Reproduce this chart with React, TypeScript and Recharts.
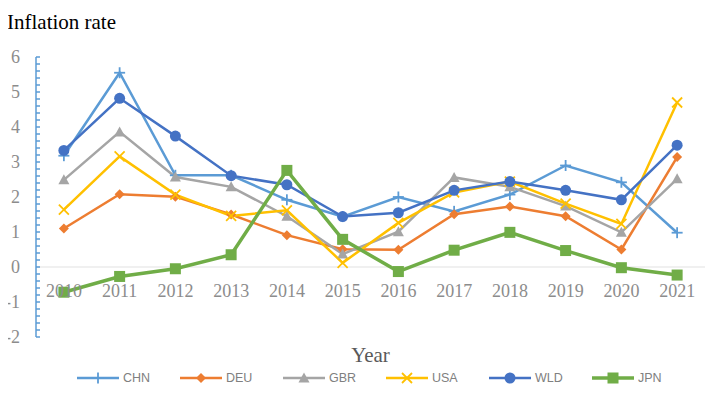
import { LineChart, Line, XAxis, YAxis, ReferenceLine } from 'recharts';

const years = ['2010', '2011', '2012', '2013', '2014', '2015', '2016', '2017', '2018', '2019', '2020', '2021'];

const chn = [3.18, 5.55, 2.62, 2.62, 1.92, 1.44, 2.0, 1.59, 2.07, 2.9, 2.42, 0.98];
const deu = [1.1, 2.08, 2.01, 1.5, 0.91, 0.51, 0.49, 1.51, 1.73, 1.45, 0.5, 3.14];
const gbr = [2.49, 3.86, 2.57, 2.29, 1.45, 0.37, 1.01, 2.56, 2.29, 1.74, 0.99, 2.52];
const usa = [1.64, 3.16, 2.07, 1.46, 1.62, 0.12, 1.26, 2.13, 2.44, 1.81, 1.23, 4.7];
const wld = [3.33, 4.82, 3.74, 2.61, 2.35, 1.44, 1.55, 2.19, 2.44, 2.19, 1.92, 3.48];
const jpn = [-0.72, -0.27, -0.05, 0.35, 2.76, 0.79, -0.13, 0.48, 0.99, 0.47, -0.02, -0.23];

const yLabels = [-2, -1, 0, 1, 2, 3, 4, 5, 6];
// minor ticks every 0.2 between the labelled ones
const yTicks: number[] = [];
for (let i = -10; i <= 30; i++) yTicks.push(i / 5);

const data = years.map((year, i) => ({
  year,
  CHN: chn[i],
  DEU: deu[i],
  GBR: gbr[i],
  USA: usa[i],
  WLD: wld[i],
  JPN: jpn[i],
}));

type Shape = 'plus' | 'diamond' | 'triangle' | 'x' | 'circle' | 'square';

const series: { key: string; color: string; shape: Shape; width: number }[] = [
  { key: 'CHN', color: '#5B9BD5', shape: 'plus', width: 2.5 },
  { key: 'DEU', color: '#ED7D31', shape: 'diamond', width: 2.5 },
  { key: 'GBR', color: '#A5A5A5', shape: 'triangle', width: 2.5 },
  { key: 'USA', color: '#FFC000', shape: 'x', width: 2.5 },
  { key: 'WLD', color: '#4472C4', shape: 'circle', width: 2.5 },
  { key: 'JPN', color: '#70AD47', shape: 'square', width: 3.5 },
];

const serif = '"Liberation Serif", "Times New Roman", serif';
const sans = '"Liberation Sans", Arial, sans-serif';

function Marker({ cx, cy, shape, color }: { cx: number; cy: number; shape: Shape; color: string }) {
  switch (shape) {
    case 'plus':
      return (
        <g stroke={color} strokeWidth={1.8}>
          <line x1={cx - 5.5} y1={cy} x2={cx + 5.5} y2={cy} />
          <line x1={cx} y1={cy - 5.5} x2={cx} y2={cy + 5.5} />
        </g>
      );
    case 'x':
      return (
        <g stroke={color} strokeWidth={1.8}>
          <line x1={cx - 5} y1={cy - 5} x2={cx + 5} y2={cy + 5} />
          <line x1={cx - 5} y1={cy + 5} x2={cx + 5} y2={cy - 5} />
        </g>
      );
    case 'diamond':
      return <polygon points={`${cx},${cy - 5} ${cx + 5},${cy} ${cx},${cy + 5} ${cx - 5},${cy}`} fill={color} />;
    case 'triangle':
      return <polygon points={`${cx},${cy - 5.5} ${cx + 5.5},${cy + 4.5} ${cx - 5.5},${cy + 4.5}`} fill={color} />;
    case 'circle':
      return <circle cx={cx} cy={cy} r={5.5} fill={color} />;
    case 'square':
      return <rect x={cx - 5.5} y={cy - 5.5} width={11} height={11} fill={color} />;
  }
  return null;
}

const YTick = ({ x, y, payload }: any) => {
  const v = Math.round(payload.value * 5) / 5;
  const isLabel = yLabels.includes(v);
  return (
    <g>
      <line x1={x} y1={y} x2={x + 4} y2={y} stroke="#5B9BD5" strokeWidth={1.5} />
      {isLabel && (
        <text x={x - 16} y={y} dy="0.35em" textAnchor="end" fill="#8C8C8C" fontSize={18} fontFamily={serif}>
          {v}
        </text>
      )}
    </g>
  );
};

const XTick = ({ x, y, payload }: any) => (
  <text x={x} y={y - 40} textAnchor="middle" fill="#8C8C8C" fontSize={18} fontFamily={serif}>
    {payload.value}
  </text>
);

function LegendRow() {
  return (
    <div style={{ position: 'absolute', left: 77, top: 370, display: 'flex' }}>
      {series.map((s) => (
        <div key={s.key} style={{ width: 103, display: 'flex', alignItems: 'center', height: 16 }}>
          <svg width={42} height={16}>
            <line x1={0} y1={8} x2={42} y2={8} stroke={s.color} strokeWidth={s.width} />
            <Marker cx={21} cy={8} shape={s.shape} color={s.color} />
          </svg>
          <span style={{ marginLeft: 4, fontFamily: sans, fontSize: 12.5, color: '#808080' }}>{s.key}</span>
        </div>
      ))}
    </div>
  );
}

export default function App() {
  return (
    <div style={{ position: 'relative', width: 721, height: 395, margin: -8 }}>
      <div
        style={{
          position: 'absolute',
          left: 7,
          top: 12,
          fontFamily: serif,
          fontSize: 21,
          lineHeight: '21px',
          color: '#000',
        }}
      >
        Inflation rate
      </div>
      <LineChart width={721} height={395} data={data} margin={{ top: 57, right: 16, bottom: 28, left: 0 }}>
        <ReferenceLine y={0} stroke="#EBEBEB" strokeWidth={1.5} />
        <XAxis
          dataKey="year"
          scale="band"
          axisLine={false}
          tickLine={false}
          tickSize={0}
          tickMargin={0}
          height={30}
          tick={XTick}
          label={{ value: 'Year', position: 'insideBottom', offset: 5, fill: '#595959', fontSize: 21, fontFamily: serif }}
        />
        <YAxis
          width={36}
          domain={[-2, 6]}
          ticks={yTicks}
          interval={0}
          axisLine={{ stroke: '#5B9BD5', strokeWidth: 1.5 }}
          tickLine={false}
          tickSize={0}
          tickMargin={0}
          tick={YTick}
        />
        {series.map((s) => (
          <Line
            key={s.key}
            type="linear"
            dataKey={s.key}
            stroke={s.color}
            strokeWidth={s.width}
            isAnimationActive={false}
            activeDot={false}
            dot={(p: any) => <Marker key={`${s.key}-${p.index}`} cx={p.cx} cy={p.cy} shape={s.shape} color={s.color} />}
          />
        ))}
      </LineChart>
      <LegendRow />
    </div>
  );
}
